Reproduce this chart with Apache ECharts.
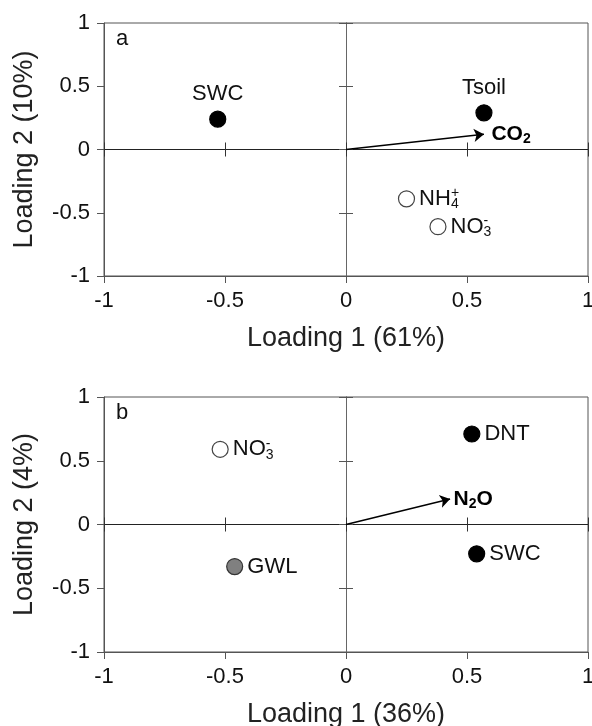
<!DOCTYPE html>
<html>
<head>
<meta charset="utf-8">
<script src="https://cdn.jsdelivr.net/npm/echarts@6/dist/echarts.min.js"></script>
<style>
  html, body { margin: 0; padding: 0; background: #fff; }
  #chart { width: 592px; height: 726px; }
</style>
</head>
<body>
<div id="chart"></div>
<script>
// axis ticks shared by both panels
const ticks = [-1, -0.5, 0, 0.5, 1];

// panel a (CO2)
const aNames = ['SWC', 'Tsoil', 'NH4+', 'NO3-'];
const aLoading1 = [-0.53, 0.57, 0.25, 0.38];
const aLoading2 = [0.24, 0.29, -0.39, -0.61];
const aKinds = ['filled', 'filled', 'open', 'open'];
const aArrowName = 'CO2';
const aArrowTip = [0.57, 0.12];
const aXTitle = 'Loading 1 (61%)';
const aYTitle = 'Loading 2 (10%)';

// panel b (N2O)
const bNames = ['NO3-', 'GWL', 'DNT', 'SWC'];
const bLoading1 = [-0.52, -0.46, 0.52, 0.54];
const bLoading2 = [0.59, -0.33, 0.71, -0.23];
const bKinds = ['open', 'gray', 'filled', 'filled'];
const bArrowName = 'N2O';
const bArrowTip = [0.43, 0.20];
const bXTitle = 'Loading 1 (36%)';
const bYTitle = 'Loading 2 (4%)';

const F = '"Liberation Sans", Arial, sans-serif';
const TXT = '#111';

const kindStyle = {
  filled: { color: '#000', borderColor: '#000' },
  open: { color: '#fff', borderColor: '#444' },
  gray: { color: '#808080', borderColor: '#333' }
};

const richText = {
  t: { fontSize: 22, fontFamily: F, color: TXT, lineHeight: 25 },
  sb: { fontSize: 14, fontFamily: F, color: TXT, lineHeight: 17, verticalAlign: 'bottom', width: 0 },
  sp: { fontSize: 14, fontFamily: F, color: TXT, lineHeight: 14, verticalAlign: 'top' },
  b: { fontSize: 21, fontFamily: F, fontWeight: 'bold', color: '#000', lineHeight: 24 },
  bs: { fontSize: 14, fontFamily: F, fontWeight: 'bold', color: '#000', lineHeight: 18, verticalAlign: 'bottom' }
};

function richName(n) {
  if (n === 'NH4+') return '{t|NH}{sb|4}{sp|+}';
  if (n === 'NO3-') return '{t|NO}{sb|3}{sp|-}';
  if (n === 'CO2') return '{b|CO}{bs|2}';
  if (n === 'N2O') return '{b|N}{bs|2}{b|O}';
  return '{t|' + n + '}';
}

const rangeOpt = {
  type: 'value',
  min: ticks[0],
  max: ticks[ticks.length - 1],
  interval: ticks[1] - ticks[0],
  splitLine: { show: false }
};

const xAxes = [];
const yAxes = [];
const series = [];

function addPanel(g, names, xs, ys, kinds, labelPos, arrowName, arrowTip, arrowDist, xTitle, yTitle) {
  const base = g * 3;
  // outer box axes
  xAxes.push(Object.assign({}, rangeOpt, {
    gridIndex: g, position: 'bottom',
    axisLine: { onZero: false, lineStyle: { color: '#555', width: 1 } },
    axisTick: { inside: false, length: 7, lineStyle: { color: '#555' } },
    axisLabel: { fontSize: 22, color: TXT, margin: 14, fontFamily: F },
    name: xTitle, nameLocation: 'middle', nameGap: 49,
    nameTextStyle: { fontSize: 27, color: '#222', fontFamily: F }
  }));
  yAxes.push(Object.assign({}, rangeOpt, {
    gridIndex: g, position: 'left',
    axisLine: { onZero: false, lineStyle: { color: '#555', width: 1 } },
    axisTick: { inside: false, length: 7, lineStyle: { color: '#555' } },
    axisLabel: { fontSize: 22, color: TXT, margin: 14, fontFamily: F },
    name: yTitle, nameLocation: 'middle', nameGap: 66,
    nameTextStyle: { fontSize: 27, color: '#222', fontFamily: F }
  }));
  // crosshair axes through zero, ticks on both sides
  [true, false].forEach(function (inside) {
    xAxes.push(Object.assign({}, rangeOpt, {
      gridIndex: g, position: 'bottom',
      axisLine: { onZero: true, onZeroAxisIndex: base, lineStyle: { color: '#222', width: 1 } },
      axisTick: { inside: inside, length: 7, lineStyle: { color: '#333' } },
      axisLabel: { show: false }
    }));
    yAxes.push(Object.assign({}, rangeOpt, {
      gridIndex: g, position: 'left',
      axisLine: { onZero: true, onZeroAxisIndex: base, lineStyle: { color: '#666', width: 1 } },
      axisTick: { inside: inside, length: 7, lineStyle: { color: '#555' } },
      axisLabel: { show: false }
    }));
  });

  series.push({
    type: 'lines',
    coordinateSystem: 'cartesian2d',
    xAxisIndex: base, yAxisIndex: base,
    symbol: ['none', 'arrow'],
    symbolSize: 10,
    lineStyle: { color: '#000', width: 1.5, opacity: 1, curveness: 0 },
    silent: true,
    z: 3,
    data: [{ coords: [[0, 0], arrowTip] }]
  });
  series.push({
    type: 'scatter',
    xAxisIndex: base, yAxisIndex: base,
    symbol: 'circle', symbolSize: 1,
    itemStyle: { color: 'rgba(0,0,0,0)', opacity: 1 },
    silent: true,
    z: 4,
    label: {
      show: true, position: 'right', distance: arrowDist, opacity: 1,
      formatter: function (p) { return richName(p.name); },
      rich: richText
    },
    data: [{ name: arrowName, value: arrowTip }]
  });
  series.push({
    type: 'scatter',
    xAxisIndex: base, yAxisIndex: base,
    symbol: 'circle', symbolSize: 16,
    silent: true,
    z: 5,
    itemStyle: { borderWidth: 1.2, opacity: 1 },
    label: {
      show: true, distance: 4, opacity: 1,
      formatter: function (p) { return richName(p.name); },
      rich: richText
    },
    data: names.map(function (n, i) {
      return {
        name: n,
        value: [xs[i], ys[i]],
        itemStyle: kindStyle[kinds[i]],
        label: { position: labelPos[i] }
      };
    })
  });
}

addPanel(0, aNames, aLoading1, aLoading2, aKinds, ['top', 'top', 'right', 'right'],
  aArrowName, aArrowTip, 7, aXTitle, aYTitle);
addPanel(1, bNames, bLoading1, bLoading2, bKinds, ['right', 'right', 'right', 'right'],
  bArrowName, bArrowTip, 3, bXTitle, bYTitle);

const chart = echarts.init(document.getElementById('chart'), null, { renderer: 'canvas' });
chart.setOption({
  animation: false,
  backgroundColor: '#fff',
  grid: [
    { left: 104, top: 23, width: 484, height: 253, show: true, borderColor: '#555', borderWidth: 1, outerBoundsMode: 'none' },
    { left: 104, top: 397, width: 484, height: 255, show: true, borderColor: '#555', borderWidth: 1, outerBoundsMode: 'none' }
  ],
  xAxis: xAxes,
  yAxis: yAxes,
  graphic: [
    { type: 'text', left: 116, top: 28, style: { text: 'a', font: '22px ' + F, fill: TXT } },
    { type: 'text', left: 116, top: 402, style: { text: 'b', font: '22px ' + F, fill: TXT } }
  ],
  series: series
});
</script>
</body>
</html>
